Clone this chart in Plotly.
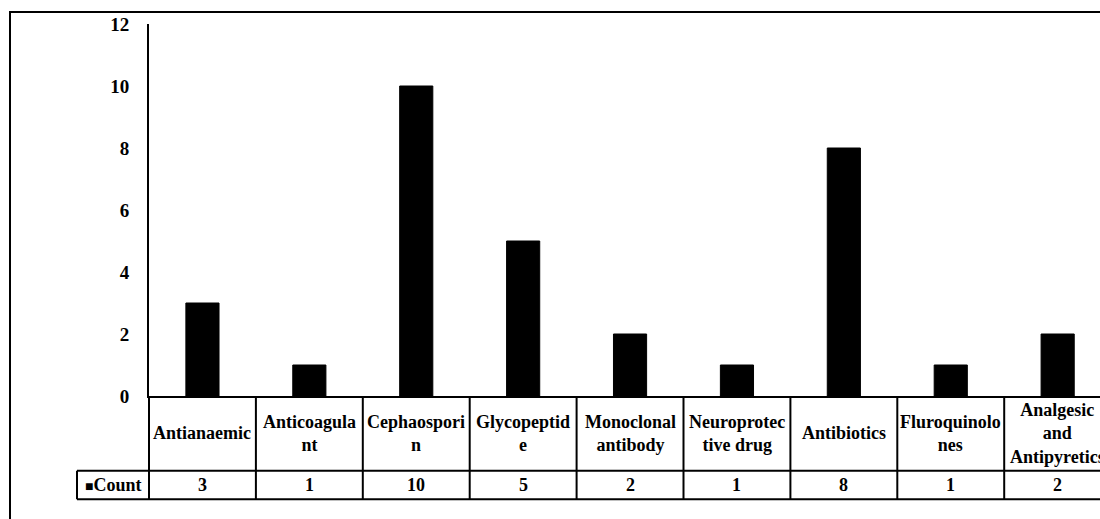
import plotly.graph_objects as go

categories = ["Antianaemic", "Anticoagulant", "Cephaosporin", "Glycopeptide",
              "Monoclonal antibody", "Neuroprotective drug", "Antibiotics",
              "Fluroquinolones", "Analgesic and Antipyretics"]
table_labels = ["Antianaemic", "Anticoagula<br>nt", "Cephaospori<br>n", "Glycopeptid<br>e",
                "Monoclonal<br>antibody", "Neuroprotec<br>tive drug", "Antibiotics",
                "Fluroquinolo<br>nes", "Analgesic<br>and<br>Antipyretics"]
counts = [3, 1, 10, 5, 2, 1, 8, 1, 2]
series_name = "Count"
y_ticks = [0, 2, 4, 6, 8, 10, 12]

FONT = "Liberation Serif, Times New Roman, Times, serif"
W, H = 1100, 519
ML, MT, MB = 149, 24, 123
plot_h = H - MT - MB          # 372
plot_w = W - ML               # 951
cell_px = 106.9
x_range = [-0.5, -0.5 + plot_w / cell_px]

def py(p):   # pixel row -> paper y
    return (H - MB - p) / plot_h

def px(p):   # pixel col -> paper x
    return (p - ML) / plot_w

row1_bot = py(470.7)
row2_bot = py(499.3)
label_left = px(77)

fig = go.Figure()
fig.add_trace(go.Bar(x=categories, y=counts, name=series_name,
                     marker=dict(color="black", line=dict(color="black", width=1)),
                     width=0.31, showlegend=False, hoverinfo="skip"))

shapes = []
line = dict(color="black", width=2)
# outer chart border
shapes.append(dict(type="rect", xref="paper", yref="paper", x0=px(10), x1=1.2,
                   y0=-0.6, y1=py(12), line=line, fillcolor="rgba(0,0,0,0)", layer="below"))
# table horizontal lines
shapes.append(dict(type="line", xref="paper", yref="paper", x0=label_left, x1=1.2,
                   y0=row1_bot, y1=row1_bot, line=line))
shapes.append(dict(type="line", xref="paper", yref="paper", x0=label_left, x1=1.2,
                   y0=row2_bot, y1=row2_bot, line=line))
# table verticals
shapes.append(dict(type="line", xref="paper", yref="paper", x0=label_left, x1=label_left,
                   y0=row1_bot, y1=row2_bot, line=line))
shapes.append(dict(type="line", xref="paper", yref="paper", x0=0, x1=0,
                   y0=0, y1=row2_bot, line=line))
for i in range(len(categories)):
    shapes.append(dict(type="line", xref="x", yref="paper", x0=i + 0.5, x1=i + 0.5,
                       y0=0, y1=row2_bot, line=line))

tfont = dict(family=FONT, size=18, color="black", weight="bold")
annotations = []
for cat, lab, v in zip(categories, table_labels, counts):
    annotations.append(dict(x=cat, xref="x", y=(0 + row1_bot) / 2, yref="paper",
                            text=lab, showarrow=False, xanchor="center", yanchor="middle",
                            font=tfont))
    annotations.append(dict(x=cat, xref="x", y=(row1_bot + row2_bot) / 2, yref="paper",
                            text=str(v), showarrow=False, xanchor="center", yanchor="middle",
                            font=tfont))
annotations.append(dict(x=(label_left + 0) / 2, xref="paper", y=(row1_bot + row2_bot) / 2,
                        yref="paper",
                        text="<span style='font-size:14px'>■</span>" + series_name,
                        showarrow=False, xanchor="center", yanchor="middle", font=tfont))

fig.update_layout(
    width=W, height=H, autosize=False,
    margin=dict(l=ML, r=0, t=MT, b=MB, pad=0),
    paper_bgcolor="white", plot_bgcolor="white",
    font=dict(family=FONT, color="black", weight="bold"),
    bargap=0.69, hovermode=False,
    shapes=shapes, annotations=annotations,
    xaxis=dict(type="category", range=x_range, showticklabels=False, showgrid=False,
               zeroline=False, showline=True, linecolor="black", linewidth=2, ticks=""),
    yaxis=dict(range=[0, 12], tickvals=y_ticks, showgrid=False, zeroline=False,
               showline=True, linecolor="black", linewidth=2, ticks="",
               ticklabelstandoff=14,
               tickfont=dict(family=FONT, size=19, color="black", weight="bold")),
)

fig.write_html("out.html", config={"displayModeBar": False},
               post_script="document.body.style.margin='0';document.body.style.overflow='hidden';")
